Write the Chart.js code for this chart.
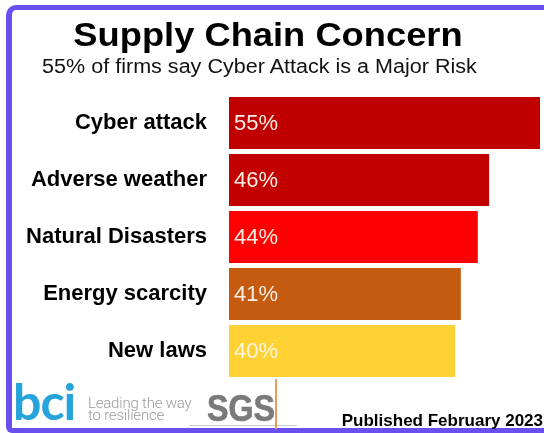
<!DOCTYPE html>
<html lang="en">
<head>
    <meta charset="UTF-8">
    <title>Supply Chain Concern</title>
    <script src="https://cdn.jsdelivr.net/npm/chart.js"></script>
    <style>
        html, body { margin: 0; padding: 0; background: #fff; }
        body { width: 544px; height: 433px; overflow: hidden; position: relative; font-family: "Liberation Sans", Arial, sans-serif; }
        #frame {
            position: absolute; left: 6px; top: 5px; width: 600px; height: 418px;
            border-left: 6px solid #6B4EF0; border-top: 5px solid #6B4EF0; border-bottom: 5px solid #6B4EF0;
            border-radius: 10px 0 0 6px;
        }
        #chartBox { position: absolute; left: 0; top: 0; width: 544px; height: 433px; }
        .title { position: absolute; left: 0; width: 536px; top: 18px; text-align: center;
                 font-size: 33px; font-weight: bold; line-height: 1; color: #000; transform: scaleX(1.1); }
        .subtitle { position: absolute; left: 0; width: 519px; top: 57px; text-align: center;
                    font-size: 19.6px; line-height: 1; color: #111; transform: scaleX(1.1); }
        .bci { position: absolute; left: 13px; top: 376px; font-family: Lato, sans-serif; font-weight: bold; font-size: 50px;
               line-height: 1; color: #25A3DA; letter-spacing: -1px; }
        .tag { position: absolute; left: 88px; top: 397px; font-family: Roboto, sans-serif; font-weight: 300;
               font-size: 15px; line-height: 12px; color: #9c9c9c; letter-spacing: -0.2px; }
        .sgs { position: absolute; left: 207px; top: 390px; font-size: 37px; font-weight: bold; line-height: 1;
               color: #7a7a7a; -webkit-text-stroke: 0.7px #7a7a7a; transform: scaleX(0.87); transform-origin: left center; }
        .vline { position: absolute; left: 275px; top: 379px; width: 1.5px; height: 50px; background: #EE9A5A; }
        .hline { position: absolute; left: 190px; top: 425px; width: 107px; height: 1px; background: #c8c8c8; }
        .published { position: absolute; right: 1px; top: 412px; font-size: 17px; font-weight: bold; line-height: 1; color: #000; }
    </style>
</head>
<body>
    <div id="frame"></div>
    <div id="chartBox"><canvas id="concernChart"></canvas></div>
    <div class="title">Supply Chain Concern</div>
    <div class="subtitle">55% of firms say Cyber Attack is a Major Risk</div>
    <div class="hline"></div>
    <div class="vline"></div>
    <div class="bci">bci</div>
    <div class="tag">Leading the way<br>to resilience</div>
    <div class="sgs">SGS</div>
    <div class="published">Published February 2023</div>

    <script>
        // values
        const categories = ['Cyber attack', 'Adverse weather', 'Natural Disasters', 'Energy scarcity', 'New laws'];
        const percentages = [55, 46, 44, 41, 40];
        const barColors = ['#C00000', '#C20000', '#FF0000', '#C55A11', '#FFD133'];

        // white % label inside the start of every bar
        const valueLabels = {
            id: 'valueLabels',
            afterDatasetsDraw(chart) {
                const ctx = chart.ctx;
                const meta = chart.getDatasetMeta(0);
                ctx.save();
                ctx.font = '22px "Liberation Sans", Arial, sans-serif';
                ctx.textAlign = 'left';
                ctx.textBaseline = 'middle';
                meta.data.forEach((bar, i) => {
                    ctx.fillStyle = i === 4 ? '#FFF6E2' : '#FDEEE4';
                    ctx.fillText(percentages[i] + '%', bar.base + 5, bar.y + 1);
                });
                ctx.restore();
            }
        };

        const ctx = document.getElementById('concernChart').getContext('2d');
        new Chart(ctx, {
            type: 'bar',
            data: {
                labels: categories,
                datasets: [{
                    data: percentages,
                    backgroundColor: barColors,
                    borderWidth: 0,
                    barPercentage: 0.91,
                    categoryPercentage: 1.0
                }]
            },
            options: {
                indexAxis: 'y',
                responsive: true,
                maintainAspectRatio: false,
                animation: false,
                layout: { padding: { top: 94.5, bottom: 53.5, left: 0, right: 4 } },
                scales: {
                    x: { display: false, min: 0, max: 55 },
                    y: {
                        grid: { display: false, drawTicks: false },
                        border: { display: false },
                        ticks: {
                            color: '#000',
                            padding: 22,
                            font: { family: '"Liberation Sans", Arial, sans-serif', size: 22, weight: 'bold' }
                        },
                        afterFit: scale => { scale.width = 229; }
                    }
                },
                plugins: {
                    legend: { display: false },
                    tooltip: { enabled: false }
                }
            },
            plugins: [valueLabels]
        });
    </script>
</body>
</html>
